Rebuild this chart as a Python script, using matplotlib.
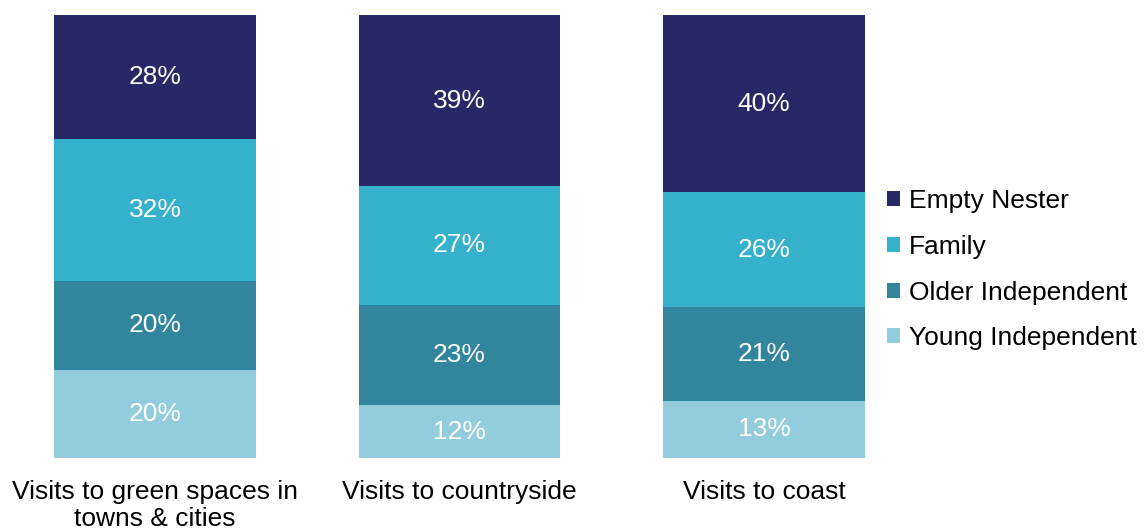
import numpy as np
import matplotlib.pyplot as plt
from matplotlib.patches import Patch

plt.rcParams['font.family'] = ['Liberation Sans', 'DejaVu Sans']

categories = ['Visits to green spaces in\ntowns & cities', 'Visits to countryside', 'Visits to coast']
segments = ['Young Independent', 'Older Independent', 'Family', 'Empty Nester']
young = [20, 12, 13]
older = [20, 23, 21]
family = [32, 27, 26]
empty = [28, 39, 40]
colors = ['#93CDDD', '#31859C', '#35B1CC', '#272866']

values = np.array([young, older, family, empty], dtype=float)
# each bar is a share of 100%, so scale the stack to fill the column
shares = values / values.sum(axis=0) * 100

fig = plt.figure(figsize=(11.46, 5.29), dpi=100)
ax = fig.add_axes([0.0024, 0.134, 0.797, 0.8375])

x = np.arange(len(categories))
bottom = np.zeros(len(categories))
for i, name in enumerate(segments):
    ax.bar(x, shares[i], bottom=bottom, width=0.663, color=colors[i], label=name)
    for j in range(len(categories)):
        ax.text(x[j], bottom[j] + shares[i][j] / 2, '{:.0f}%'.format(values[i][j]),
                ha='center', va='center', color='white', fontsize=19)
    bottom += shares[i]

ax.set_xlim(-0.5, 2.5)
ax.set_ylim(0, 100)
ax.set_xticks(x)
ax.set_xticklabels(categories, fontsize=19, linespacing=1.12)
ax.tick_params(axis='x', length=0, pad=16)
ax.set_yticks([])
for s in ax.spines.values():
    s.set_visible(False)

handles = [Patch(facecolor=colors[i], label=segments[i]) for i in range(3, -1, -1)]
fig.legend(handles=handles, loc='center left', bbox_to_anchor=(0.753, 0.49),
           frameon=False, fontsize=19, handlelength=0.5, handleheight=0.5,
           handletextpad=0.35, labelspacing=0.82)

fig.savefig('out.png', dpi=100)
